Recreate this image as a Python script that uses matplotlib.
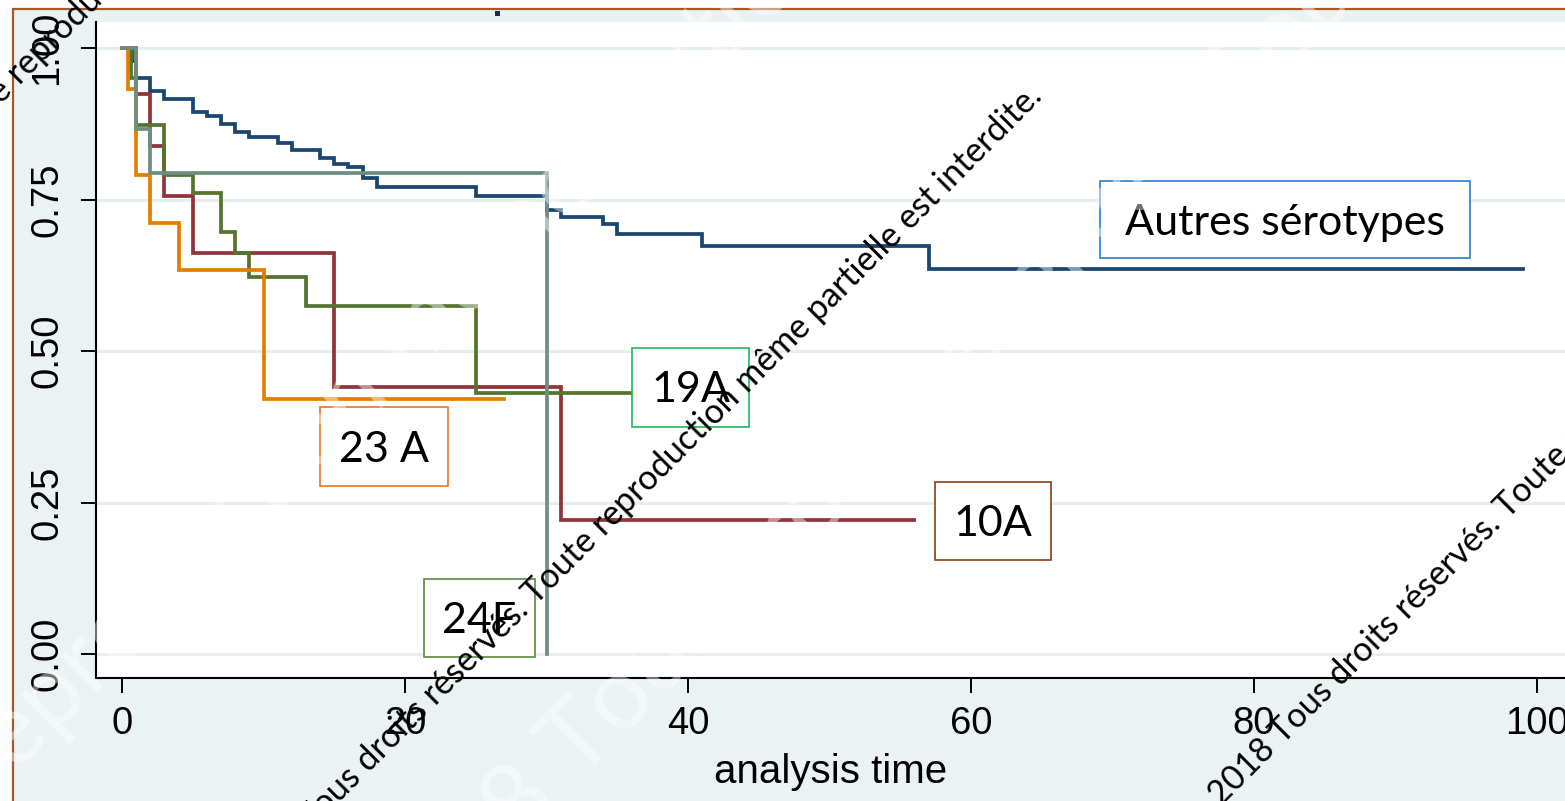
import numpy as np
import matplotlib.pyplot as plt
from matplotlib.patches import Rectangle

# courbes de survie (temps du saut, survie apres le saut)
autres_t = [0, 0.7, 1, 2, 3, 5, 6, 7, 8, 9, 11, 12, 14, 15, 16, 17, 18, 25, 30, 31, 34, 35, 41, 57]
autres_s = [1.0, 0.979, 0.950, 0.929, 0.916, 0.895, 0.888, 0.874, 0.862, 0.854, 0.843, 0.831,
            0.818, 0.809, 0.803, 0.785, 0.771, 0.756, 0.733, 0.722, 0.709, 0.693, 0.674, 0.635]
autres_fin = 99

s10a_t = [0, 1, 2, 3, 5, 15, 31]
s10a_s = [1.0, 0.924, 0.839, 0.756, 0.662, 0.440, 0.221]
s10a_fin = 56

s19a_t = [0, 0.6, 1, 3, 5, 7, 8, 9, 13, 25]
s19a_s = [1.0, 0.951, 0.873, 0.790, 0.761, 0.697, 0.662, 0.622, 0.574, 0.431]
s19a_fin = 36

s23a_t = [0, 0.45, 1, 2, 4, 10]
s23a_s = [1.0, 0.933, 0.790, 0.712, 0.634, 0.421]
s23a_fin = 27

s24f_t = [0, 1, 2, 30]
s24f_s = [1.0, 0.867, 0.794, 0.0]
s24f_fin = 30

xticks = [0, 20, 40, 60, 80, 100]
yticks = [0, 0.25, 0.5, 0.75, 1.0]
ylabels = ['0.00', '0.25', '0.50', '0.75', '1.00']

W, H = 1565, 801


def px(x, y):
    # pixels de l'image -> fraction de figure
    return x / W, 1 - y / H


fig = plt.figure(figsize=(W / 100, H / 100), dpi=100)
fig.patch.set_facecolor('white')

# zone du graphe (fond bleu clair, cadre marron)
x0, y0 = px(13, 9)
fig.add_artist(Rectangle((x0, -0.05), 1.1, y0 + 0.05, transform=fig.transFigure,
                         facecolor='#eaf2f3', edgecolor='#a5582b', lw=1.6, zorder=-1))
sx, sy = px(495, 16)
fig.add_artist(Rectangle((sx, sy), 5 / W, 5 / H, transform=fig.transFigure,
                         facecolor='#1c2b5a', edgecolor='none', zorder=-0.5))

l, b = px(96, 678)
r, t = px(W, 22)
ax = fig.add_axes([l, b, r - l, t - b])
ax.set_facecolor('white')

courbes = [(autres_t, autres_s, autres_fin, '#1a476f'),
           (s10a_t, s10a_s, s10a_fin, '#90353b'),
           (s19a_t, s19a_s, s19a_fin, '#55752f'),
           (s23a_t, s23a_s, s23a_fin, '#e37e00'),
           (s24f_t, s24f_s, s24f_fin, '#6e8e84')]
for i, (tt, ss, fin, cor) in enumerate(courbes):
    ax.step(list(tt) + [fin], list(ss) + [ss[-1]], where='post', color=cor, lw=2.7,
            solid_joinstyle='miter', zorder=2 + i)

ax.set_xlim(-1.84, 101.98)
ax.set_ylim(-0.0396, 1.043)
ax.set_xticks(xticks)
ax.set_yticks(yticks)
ax.set_yticklabels(ylabels)
for lab in ax.get_xticklabels() + ax.get_yticklabels():
    lab.set_family('Liberation Sans')
ax.tick_params(axis='both', direction='out', length=11, width=1.4, labelsize=27.5, colors='black')
ax.tick_params(axis='x', pad=9)
ax.tick_params(axis='y', pad=11, labelrotation=90)
for lab in ax.get_yticklabels():
    lab.set_va('center')
ax.yaxis.grid(True, color='#e6eef0', lw=2.2)
ax.set_axisbelow(True)
for cote in ['top', 'right']:
    ax.spines[cote].set_visible(False)
for cote in ['left', 'bottom']:
    ax.spines[cote].set_linewidth(1.5)
ax.set_xlabel('analysis time', fontsize=29, family='Liberation Sans', labelpad=8)

# etiquettes encadrees
boites = [('Autres sérotypes', 1100, 181, 1470, 258, '#2a7fd0'),
          ('19A', 632, 348, 749, 427, '#22b85a'),
          ('23 A', 320, 407, 448, 486, '#e2752a'),
          ('10A', 935, 482, 1051, 560, '#8b3d11'),
          ('24F', 424, 579, 535, 657, '#5b8a3a')]
for texte, bx0, by0, bx1, by1, cor in boites:
    fx0, fy1 = px(bx0, by0)
    fx1, fy0 = px(bx1, by1)
    fig.add_artist(Rectangle((fx0, fy0), fx1 - fx0, fy1 - fy0, transform=fig.transFigure,
                             facecolor='white', edgecolor=cor, lw=1.2, zorder=5))
    cx, cy = px((bx0 + bx1) / 2, (by0 + by1) / 2 + 3)
    fig.text(cx, cy, texte, ha='center', va='center', fontsize=31, family='Lato',
             color='black', zorder=6)


# filigrane
def filigrane(x, y, gauche, droite, taille=24.5, cor='black', alpha=1.0, z=10):
    fx, fy = px(x, y)
    fig.text(fx, fy, gauche, rotation=45, rotation_mode='anchor', ha='right', va='baseline',
             fontsize=taille, family='Lato', color=cor, alpha=alpha, zorder=z)
    fig.text(fx, fy, droite, rotation=45, rotation_mode='anchor', ha='left', va='baseline',
             fontsize=taille, family='Lato', color=cor, alpha=alpha, zorder=z)


# grand filigrane pale
filigrane(-10, 800, '', 'reproduction même partielle est interdite.', taille=72,
          cor='white', alpha=0.45, z=9)
filigrane(560, 800, '2018', ' Tous droits réservés. Toute reproduction même partielle', taille=72,
          cor='white', alpha=0.45, z=9)

filigrane(530, 612, '© 2018 Tous droits réservés.', ' Toute reproduction même partielle est interdite.')
filigrane(1502, 526, '© 2018 Tous droits réservés.', ' Toute reproduction même partielle est interdite.')
filigrane(14, 92, 'Tous droits réservés. Toute', ' reproduction même partielle est interdite.')

fig.savefig('out.png', dpi=100)
